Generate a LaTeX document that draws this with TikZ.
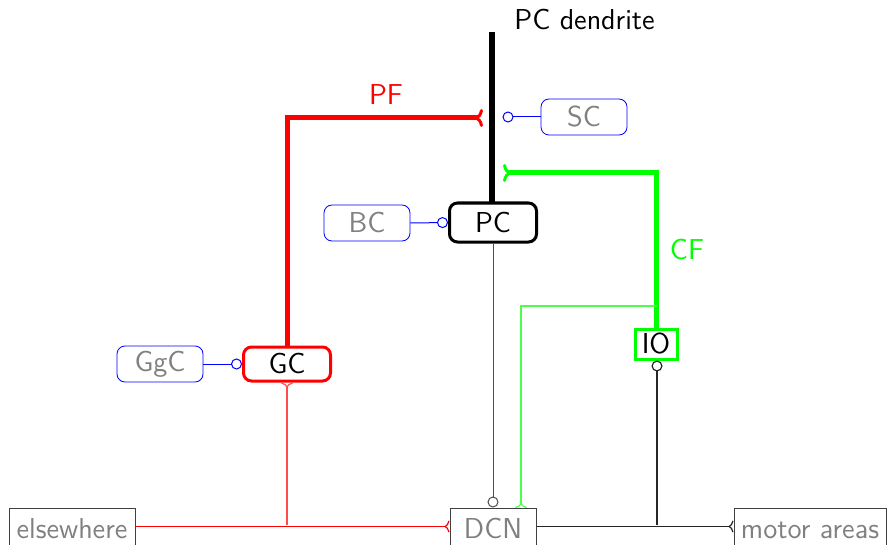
\documentclass[tikz,border=0pt]{standalone}
\usetikzlibrary{arrows.meta}
\begin{document}
\begin{tikzpicture}[x=0.5pt,y=-0.5pt,
  every node/.style={font=\sffamily\fontsize{14.4}{17}\selectfont, inner sep=0pt},
  cell/.style={draw=blue, rounded corners=4pt, text=gray, minimum width=43pt, minimum height=18pt, line width=0.4pt},
  mainc/.style={rounded corners=4pt, minimum width=43.5pt, line width=1.5pt, text=black},
  outbox/.style={draw=black!75, text=gray, minimum height=18.5pt, line width=0.5pt, text height=12pt, text depth=0pt},
  inh/.style={-{Circle[open,length=5.5pt,width=5.5pt]}},
  exc/.style={-{Computer Modern Rightarrow[reversed,length=2.5pt,width=6pt]}},
  bigexc/.style={-{Computer Modern Rightarrow[reversed,length=4pt,width=9pt,line width=1.5pt]}}]
\useasboundingbox (0,0) rectangle (887,545);
% nodes
\node[mainc, draw=black, minimum height=19.5pt] (PC) at (493,222.5) {PC};
\node[cell] (BC) at (367,223) {BC};
\node[cell] (SC) at (584,117) {SC};
\node[cell] (GgC) at (160,364) {GgC};
\node[mainc, draw=red, minimum height=17pt] (GC) at (287,364) {GC};
\node[draw=green, line width=1.5pt, minimum width=21pt, minimum height=15pt] (IO) at (656,344) {IO};
\node[outbox, minimum width=43pt] (DCN) at (493,526.5) {DCN};
\node[outbox, minimum width=63pt] (else) at (72,526.5) {elsewhere};
\node[outbox, minimum width=76pt] (motor) at (810,526.5) {motor areas};
% dendrite
\coordinate (dtop) at (492,32);
\draw[line width=3pt] (PC.north -| dtop) -- (dtop);
\node[anchor=west] (dlabel) at (514,20) {PC dendrite};
% PF
\coordinate (pfend) at (483,118);
\draw[red, line width=2.5pt, bigexc] (GC.north) |- (pfend);
\node[text=red] (pf) at (386,95) {PF};
% CF
\coordinate (cfend) at (503,173);
\draw[green, line width=2.5pt, bigexc] (IO.north) |- (cfend);
\node[text=green] (cf) at (687,250) {CF};
% inhibitory cells
\coordinate (scend) at (502.5,117);
\draw[blue, line width=0.5pt, inh] (SC.west) -- (scend);
\draw[blue, line width=0.5pt, inh] (BC.east) -- (PC.west);
\draw[blue, line width=0.5pt, inh] (GgC.east) -- (GC.west);
% PC to DCN
\draw[black!70, line width=0.5pt, inh] (PC.south) -- (DCN.north);
% DCN to motor
\draw[black!85, line width=0.6pt, exc] (DCN.east) -- (motor.west);
\coordinate (iojunc) at (657,525);
\draw[black!85, line width=0.6pt, inh] (iojunc) -- (IO.south -| iojunc);
% elsewhere
\draw[red, line width=0.6pt, exc] (else.east) -- (DCN.west);
\coordinate (gcjunc) at (287,525);
\draw[red!70, line width=0.6pt, exc] (gcjunc) -- (GC.south);
% CF collateral
\coordinate (cfj) at (657,306);
\coordinate (dcnin) at (521,508);
\draw[green!70, line width=0.6pt, exc] (cfj) -| (dcnin);
\end{tikzpicture}
\end{document}
